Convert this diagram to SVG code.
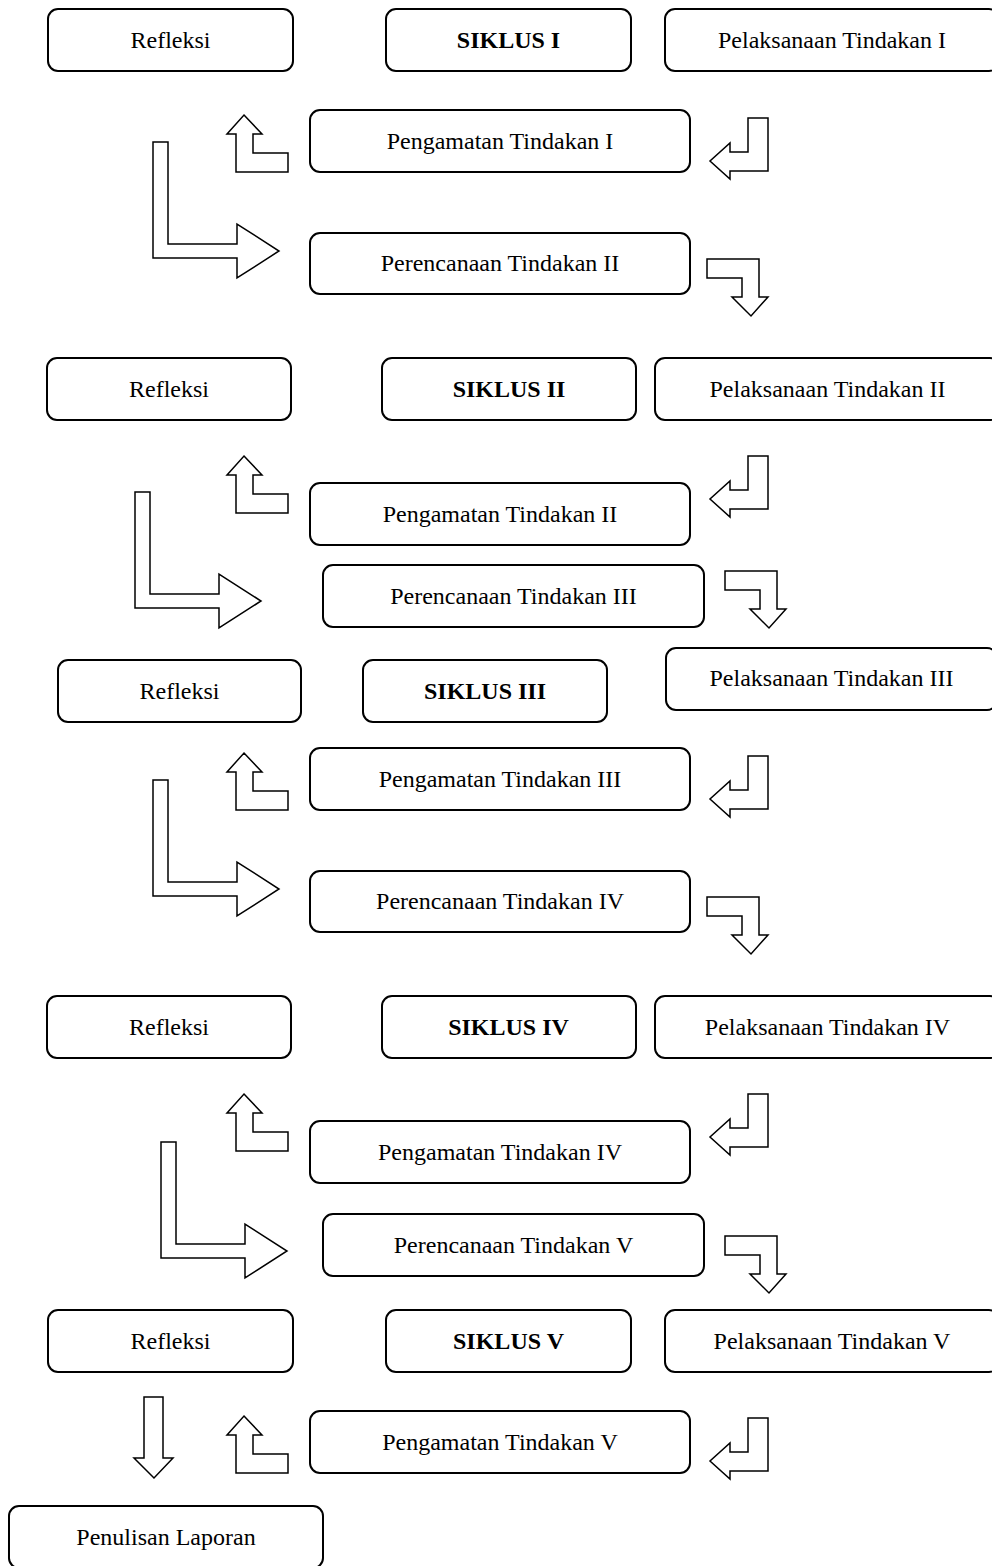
<svg xmlns="http://www.w3.org/2000/svg" xmlns:xlink="http://www.w3.org/1999/xlink" width="992" height="1566" viewBox="0 0 992 1566">
<style>
.box{fill:#fff;stroke:#000;stroke-width:2}
.t{font-family:"Liberation Serif","Times New Roman",serif;font-size:24px;fill:#000;text-anchor:middle}
.b{font-weight:bold}
.arrow{fill:#fff;stroke:#000;stroke-width:1.5;stroke-linejoin:miter}
</style>
<defs>
<polygon id="bentUp" class="arrow" points="244,115 262,134 253,134 253,153 288,153 288,172 236,172 236,134 227,134"/>
<polygon id="bentLeft" class="arrow" points="768,118 768,171 730,171 730,179 710,161 730,143 730,152 748,152 748,118"/>
<polygon id="bigL" class="arrow" points="153,142 168,142 168,244 237,244 237,224 279,251 237,278 237,258 153,258"/>
<polygon id="bentDown" class="arrow" points="707,259 759,259 759,297 768,297 751,316 732,297 742,297 742,278 707,278"/>
</defs>
<rect width="992" height="1566" fill="#fff"/>
<g id="connectors">
<use xlink:href="#bentUp" href="#bentUp"/>
<use xlink:href="#bentLeft" href="#bentLeft"/>
<use xlink:href="#bigL" href="#bigL"/>
<use xlink:href="#bentDown" href="#bentDown"/>
<use xlink:href="#bentUp" href="#bentUp" transform="translate(0,341)"/>
<use xlink:href="#bentLeft" href="#bentLeft" transform="translate(0,338)"/>
<use xlink:href="#bigL" href="#bigL" transform="translate(-18,350)"/>
<use xlink:href="#bentDown" href="#bentDown" transform="translate(18,312)"/>
<use xlink:href="#bentUp" href="#bentUp" transform="translate(0,638)"/>
<use xlink:href="#bentLeft" href="#bentLeft" transform="translate(0,638)"/>
<use xlink:href="#bigL" href="#bigL" transform="translate(0,638)"/>
<use xlink:href="#bentDown" href="#bentDown" transform="translate(0,638)"/>
<use xlink:href="#bentUp" href="#bentUp" transform="translate(0,979)"/>
<use xlink:href="#bentLeft" href="#bentLeft" transform="translate(0,976)"/>
<use xlink:href="#bigL" href="#bigL" transform="translate(8,1000)"/>
<use xlink:href="#bentDown" href="#bentDown" transform="translate(18,977)"/>
<use xlink:href="#bentUp" href="#bentUp" transform="translate(0,1301)"/>
<use xlink:href="#bentLeft" href="#bentLeft" transform="translate(0,1300)"/>
<polygon class="arrow" points="144,1397 163,1397 163,1458 173,1458 154,1478 134,1458 144,1458"/>
</g>
<g id="refleksi1"><rect class="box" x="48" y="9" width="245" height="62" rx="10"/><text class="t" x="170.5" y="48">Refleksi</text></g>
<g id="siklus1"><rect class="box" x="386" y="9" width="245" height="62" rx="10"/><text class="t b" x="508.5" y="48">SIKLUS I</text></g>
<g id="pelaksanaan1"><rect class="box" x="665" y="9" width="334" height="62" rx="10"/><text class="t" x="832" y="48">Pelaksanaan Tindakan I</text></g>
<g id="pengamatan1"><rect class="box" x="310" y="110" width="380" height="62" rx="10"/><text class="t" x="500" y="149">Pengamatan Tindakan I</text></g>
<g id="perencanaan2"><rect class="box" x="310" y="233" width="380" height="61" rx="10"/><text class="t" x="500" y="271">Perencanaan Tindakan II</text></g>

<g id="refleksi2"><rect class="box" x="47" y="358" width="244" height="62" rx="10"/><text class="t" x="169" y="397">Refleksi</text></g>
<g id="siklus2"><rect class="box" x="382" y="358" width="254" height="62" rx="10"/><text class="t b" x="509" y="397">SIKLUS II</text></g>
<g id="pelaksanaan2"><rect class="box" x="655" y="358" width="345" height="62" rx="10"/><text class="t" x="827.5" y="397">Pelaksanaan Tindakan II</text></g>
<g id="pengamatan2"><rect class="box" x="310" y="483" width="380" height="62" rx="10"/><text class="t" x="500" y="522">Pengamatan Tindakan II</text></g>
<g id="perencanaan3"><rect class="box" x="323" y="565" width="381" height="62" rx="10"/><text class="t" x="513.5" y="604">Perencanaan Tindakan III</text></g>

<g id="refleksi3"><rect class="box" x="58" y="660" width="243" height="62" rx="10"/><text class="t" x="179.5" y="699">Refleksi</text></g>
<g id="siklus3"><rect class="box" x="363" y="660" width="244" height="62" rx="10"/><text class="t b" x="485" y="699">SIKLUS III</text></g>
<g id="pelaksanaan3"><rect class="box" x="666" y="648" width="331" height="62" rx="10"/><text class="t" x="831.5" y="686">Pelaksanaan Tindakan III</text></g>
<g id="pengamatan3"><rect class="box" x="310" y="748" width="380" height="62" rx="10"/><text class="t" x="500" y="787">Pengamatan Tindakan III</text></g>
<g id="perencanaan4"><rect class="box" x="310" y="871" width="380" height="61" rx="10"/><text class="t" x="500" y="909">Perencanaan Tindakan IV</text></g>

<g id="refleksi4"><rect class="box" x="47" y="996" width="244" height="62" rx="10"/><text class="t" x="169" y="1035">Refleksi</text></g>
<g id="siklus4"><rect class="box" x="382" y="996" width="254" height="62" rx="10"/><text class="t b" x="508.5" y="1035">SIKLUS IV</text></g>
<g id="pelaksanaan4"><rect class="box" x="655" y="996" width="345" height="62" rx="10"/><text class="t" x="827.5" y="1035">Pelaksanaan Tindakan IV</text></g>
<g id="pengamatan4"><rect class="box" x="310" y="1121" width="380" height="62" rx="10"/><text class="t" x="500" y="1160">Pengamatan Tindakan IV</text></g>
<g id="perencanaan5"><rect class="box" x="323" y="1214" width="381" height="62" rx="10"/><text class="t" x="513.5" y="1253">Perencanaan Tindakan V</text></g>

<g id="refleksi5"><rect class="box" x="48" y="1310" width="245" height="62" rx="10"/><text class="t" x="170.5" y="1349">Refleksi</text></g>
<g id="siklus5"><rect class="box" x="386" y="1310" width="245" height="62" rx="10"/><text class="t b" x="508.5" y="1349">SIKLUS V</text></g>
<g id="pelaksanaan5"><rect class="box" x="665" y="1310" width="334" height="62" rx="10"/><text class="t" x="832" y="1349">Pelaksanaan Tindakan V</text></g>
<g id="pengamatan5"><rect class="box" x="310" y="1411" width="380" height="62" rx="10"/><text class="t" x="500" y="1450">Pengamatan Tindakan V</text></g>
<g id="penulisan"><rect class="box" x="9" y="1506" width="314" height="62" rx="10"/><text class="t" x="166" y="1545">Penulisan Laporan</text></g>
</svg>
